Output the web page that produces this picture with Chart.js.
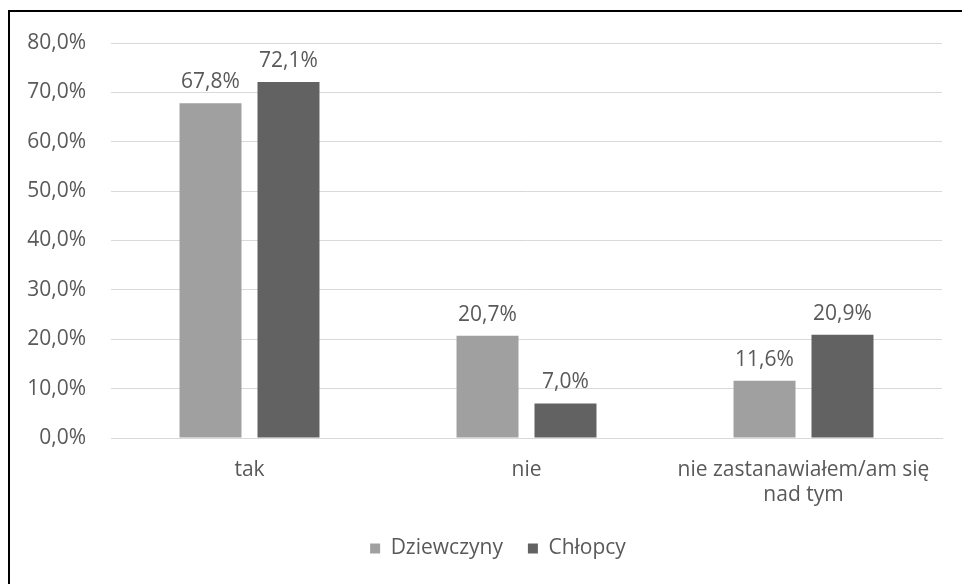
<!DOCTYPE html>
<html>
<head>
<meta charset="utf-8">
<script src="https://cdn.jsdelivr.net/npm/chart.js@4/dist/chart.umd.min.js"></script>
<style>
  html, body { margin: 0; padding: 0; background: #fff; }
  #wrap { position: relative; width: 962px; height: 584px; }
  #frame {
    position: absolute; left: 8px; top: 10px; right: 0; bottom: 0;
    border-top: 2px solid #000; border-left: 2px solid #000;
    pointer-events: none;
  }
  canvas { position: absolute; left: 0; top: 0; }
</style>
</head>
<body>
<div id="wrap">
  <canvas id="chart" width="962" height="584"></canvas>
  <div id="frame"></div>
</div>
<script>
const categories = ["tak", "nie", ["nie zastanawiałem/am się", "nad tym"]];
const girls = [67.8, 20.7, 11.6];
const boys = [72.1, 7.0, 20.9];
const yTicks = [0, 10, 20, 30, 40, 50, 60, 70, 80];

const textColor = "#595959";
const fontFamily = "'Open Sans', sans-serif";
const fontSize = 21;

const fmt = (v) => v.toFixed(1).replace(".", ",") + "%";

// value labels above each bar
const barLabels = {
  id: "barLabels",
  afterDatasetsDraw(chart) {
    const ctx = chart.ctx;
    ctx.save();
    ctx.font = fontSize + "px " + fontFamily;
    ctx.fillStyle = textColor;
    ctx.textAlign = "center";
    ctx.textBaseline = "middle";
    chart.data.datasets.forEach((ds, i) => {
      chart.getDatasetMeta(i).data.forEach((bar, j) => {
        ctx.fillText(fmt(ds.data[j]), bar.x, bar.y - 21);
      });
    });
    ctx.restore();
  },
};

// nudge the legend a little right of the canvas centre
const legendShift = {
  id: "legendShift",
  afterLayout(chart) {
    if (chart.legend) {
      chart.legend.left += 54;
    }
  },
};

new Chart(document.getElementById("chart").getContext("2d"), {
  type: "bar",
  data: {
    labels: categories,
    datasets: [
      {
        label: "Dziewczyny",
        data: girls,
        backgroundColor: "#a0a0a0",
        categoryPercentage: 0.563,
        barPercentage: 0.795,
      },
      {
        label: "Chłopcy",
        data: boys,
        backgroundColor: "#626262",
        categoryPercentage: 0.563,
        barPercentage: 0.795,
      },
    ],
  },
  options: {
    responsive: false,
    animation: false,
    layout: { padding: { left: 0, right: 20, top: 43, bottom: 15 } },
    plugins: {
      tooltip: { enabled: false },
      legend: {
        position: "bottom",
        labels: {
          boxWidth: 10,
          boxHeight: 10,
          padding: 25,
          color: textColor,
          font: { family: fontFamily, size: fontSize },
        },
      },
    },
    scales: {
      x: {
        grid: { display: false },
        border: { color: "#d9d9d9", width: 1 },
        ticks: {
          color: textColor,
          font: { family: fontFamily, size: fontSize },
          padding: 11,
          maxRotation: 0,
        },
        afterFit(scale) { scale.height = 75; },
      },
      y: {
        min: 0,
        max: 80,
        afterBuildTicks(scale) {
          scale.ticks = yTicks.map((v) => ({ value: v }));
        },
        grid: { color: "#d9d9d9", drawTicks: false },
        border: { display: false },
        ticks: {
          color: textColor,
          font: { family: fontFamily, size: fontSize },
          padding: 25,
          callback: (v) => fmt(v),
        },
        afterFit(scale) { scale.width = 111; },
      },
    },
  },
  plugins: [barLabels, legendShift],
});
</script>
</body>
</html>
